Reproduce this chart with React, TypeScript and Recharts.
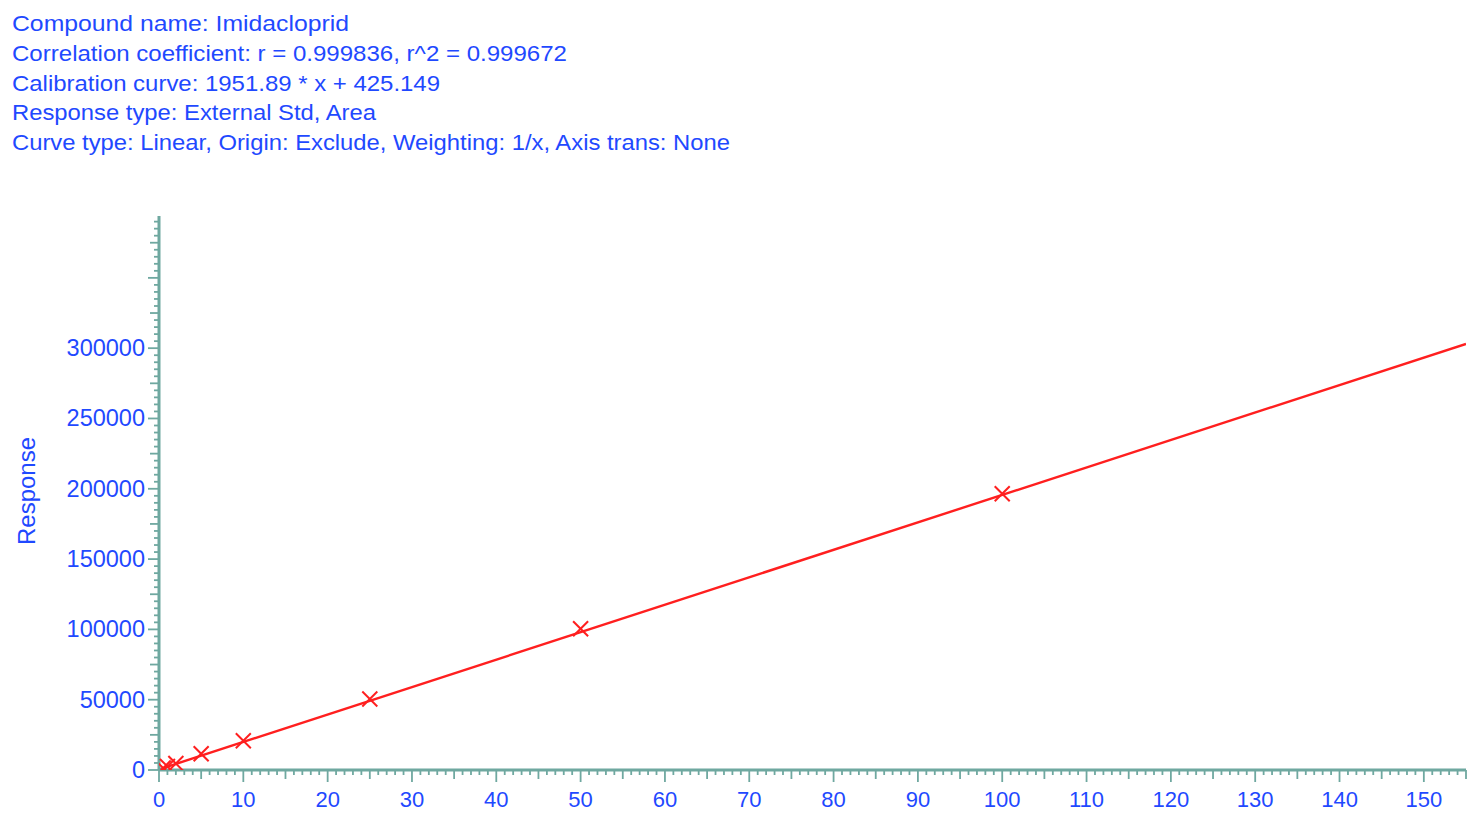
import React from 'react';
import { ComposedChart, Line, Scatter, XAxis, YAxis } from 'recharts';

const headerLines = [
  'Compound name: Imidacloprid',
  'Correlation coefficient: r = 0.999836, r^2 = 0.999672',
  'Calibration curve: 1951.89 * x + 425.149',
  'Response type: External Std, Area',
  'Curve type: Linear, Origin: Exclude, Weighting: 1/x, Axis trans: None',
];
const headerWidths = [337, 555, 428, 364, 718];

// calibration standards (concentration, response)
const stdConc = [0.5, 1, 2, 5, 10, 25, 50, 100];
const stdResp = [1400, 2500, 4600, 11500, 20800, 50500, 100500, 196500];

// fitted calibration line endpoints
const fitConc = [0, 155];
const fitResp = [425, 303000];

const xLabelTicks = [0, 10, 20, 30, 40, 50, 60, 70, 80, 90, 100, 110, 120, 130, 140, 150];
const yLabelTicks = [0, 50000, 100000, 150000, 200000, 250000, 300000];
const xTicks = Array.from({ length: 156 }, (_, i) => i);
const yTicks = Array.from({ length: 79 }, (_, i) => i * 5000);

const standards = stdConc.map((x, i) => ({ x, y: stdResp[i] }));
const fitLine = fitConc.map((x, i) => ({ x, y: fitResp[i] }));

const BLUE = '#1f49ff';
const AXIS = '#6fa8a0';
const RED = '#ff1f1f';
const FONT = '"Liberation Sans", Arial, sans-serif';

const XTick = (props: any) => {
  const { x, y, payload } = props;
  const v = payload.value;
  const len = v % 10 === 0 ? 12 : v % 5 === 0 ? 9 : 5;
  return (
    <g>
      <line x1={x} y1={y} x2={x} y2={y + len} stroke={AXIS} strokeWidth={1.8} />
      {xLabelTicks.includes(v) && (
        <text x={x} y={y + 37} textAnchor="middle" fill={BLUE} fontSize={22} fontFamily={FONT}>
          {v}
        </text>
      )}
    </g>
  );
};

const YTick = (props: any) => {
  const { x, y, payload } = props;
  const v = payload.value;
  const len = v % 50000 === 0 ? 11 : v % 25000 === 0 ? 9 : 5;
  return (
    <g>
      <line x1={x} y1={y} x2={x - len} y2={y} stroke={AXIS} strokeWidth={1.8} />
      {yLabelTicks.includes(v) && (
        <text x={x - 14} y={y + 8} textAnchor="end" fill={BLUE} fontSize={23.5} fontFamily={FONT}>
          {v}
        </text>
      )}
    </g>
  );
};

const Cross = (props: any) => {
  const { cx, cy } = props;
  if (cx == null || cy == null) return null;
  const s = 7.5;
  return (
    <g>
      <line x1={cx - s} y1={cy - s} x2={cx + s} y2={cy + s} stroke={RED} strokeWidth={2} />
      <line x1={cx - s} y1={cy + s} x2={cx + s} y2={cy - s} stroke={RED} strokeWidth={2} />
    </g>
  );
};

export default function App() {
  return (
    <div style={{ position: 'absolute', left: 0, top: 0, width: 1480, height: 821, background: '#fff' }}>
      <svg width={1480} height={170} style={{ position: 'absolute', left: 0, top: 0 }}>
        {headerLines.map((t, i) => (
          <text
            key={i}
            x={12}
            y={31 + i * 29.8}
            fill={BLUE}
            fontSize={22}
            fontFamily={FONT}
            textLength={headerWidths[i]}
            lengthAdjust="spacingAndGlyphs"
          >
            {t}
          </text>
        ))}
      </svg>
      <div style={{ position: 'absolute', left: 0, top: 0 }}>
        <ComposedChart
          width={1480}
          height={821}
          margin={{ top: 216, right: 14, bottom: 11, left: 99 }}
        >
          <XAxis
            dataKey="x"
            type="number"
            domain={[0, 155]}
            ticks={xTicks}
            interval={0}
            tick={<XTick />}
            tickLine={false}
            tickSize={0}
            tickMargin={0}
            height={40}
            axisLine={{ stroke: AXIS, strokeWidth: 3 }}
            allowDataOverflow
          />
          <YAxis
            type="number"
            domain={[0, 394000]}
            ticks={yTicks}
            interval={0}
            tick={<YTick />}
            tickLine={false}
            tickSize={0}
            tickMargin={0}
            width={60}
            axisLine={{ stroke: AXIS, strokeWidth: 3 }}
            allowDataOverflow
          />
          <Line
            data={fitLine}
            dataKey="y"
            type="linear"
            stroke={RED}
            strokeWidth={2.4}
            dot={false}
            activeDot={false}
            isAnimationActive={false}
          />
          <Scatter data={standards} dataKey="y" shape={<Cross />} isAnimationActive={false} />
        </ComposedChart>
      </div>
      <svg width={60} height={821} style={{ position: 'absolute', left: 0, top: 0 }}>
        <text
          x={0}
          y={0}
          transform="translate(35 491) rotate(-90)"
          textAnchor="middle"
          fill={BLUE}
          fontSize={24}
          fontFamily={FONT}
        >
          Response
        </text>
      </svg>
    </div>
  );
}
